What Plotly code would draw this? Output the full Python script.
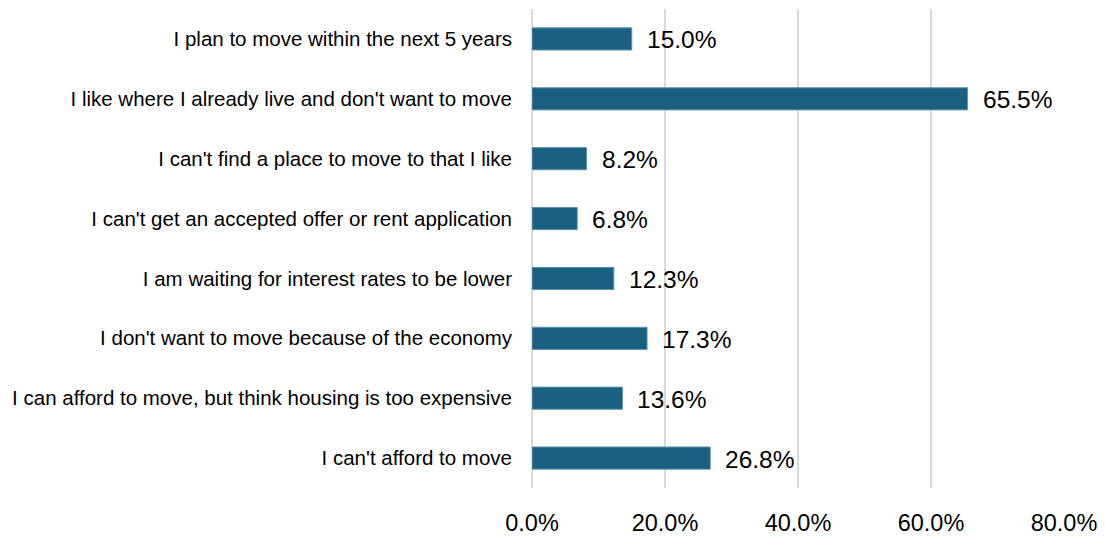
import plotly.graph_objects as go

# Survey answers (top to bottom) and share of respondents, in percent
reasons = [
    "I plan to move within the next 5 years",
    "I like where I already live and don't want to move",
    "I can't find a place to move to that I like",
    "I can't get an accepted offer or rent application",
    "I am waiting for interest rates to be lower",
    "I don't want to move because of the economy",
    "I can afford to move, but think housing is too expensive",
    "I can't afford to move",
]
shares = [15.0, 65.5, 8.2, 6.8, 12.3, 17.3, 13.6, 26.8]

tick_values = [0, 20, 40, 60, 80]
tick_labels = ["0.0%", "20.0%", "40.0%", "60.0%", "80.0%"]

BAR = "#185F80"
FONT = "Liberation Sans, Arial, sans-serif"

fig = go.Figure(
    go.Bar(
        x=shares,
        y=reasons,
        orientation="h",
        marker=dict(color=BAR, line=dict(color="#5F95AE", width=1)),
        hoverinfo="skip",
    )
)

# value labels just past the end of each bar
for r, v in zip(reasons, shares):
    fig.add_annotation(
        x=v, y=r, text=f"{v:.1f}%", xanchor="left", yanchor="middle",
        xshift=13, yshift=-1, showarrow=False,
        font=dict(family=FONT, size=24.5, color="#000000"),
    )

fig.update_layout(
    width=1105,
    height=536,
    margin=dict(l=532, r=41, t=9, b=48, autoexpand=False),
    paper_bgcolor="#ffffff",
    plot_bgcolor="#ffffff",
    bargap=0.63,
    showlegend=False,
    xaxis=dict(
        range=[0, 80],
        tickvals=tick_values,
        ticktext=tick_labels,
        showgrid=True,
        gridcolor="#D9D9D9",
        gridwidth=2,
        zeroline=True,
        zerolinecolor="#D9D9D9",
        zerolinewidth=2,
        showline=False,
        ticks="",
        ticklabelstandoff=18,
        automargin=False,
        tickfont=dict(family=FONT, size=23.5, color="#000000"),
        fixedrange=True,
    ),
    yaxis=dict(
        categoryorder="array",
        categoryarray=reasons[::-1],
        showgrid=False,
        zeroline=False,
        showline=False,
        ticks="",
        ticklabelstandoff=19,
        automargin=False,
        tickfont=dict(family=FONT, size=20.5, color="#000000"),
        fixedrange=True,
    ),
)

fig.write_html("out.html")
